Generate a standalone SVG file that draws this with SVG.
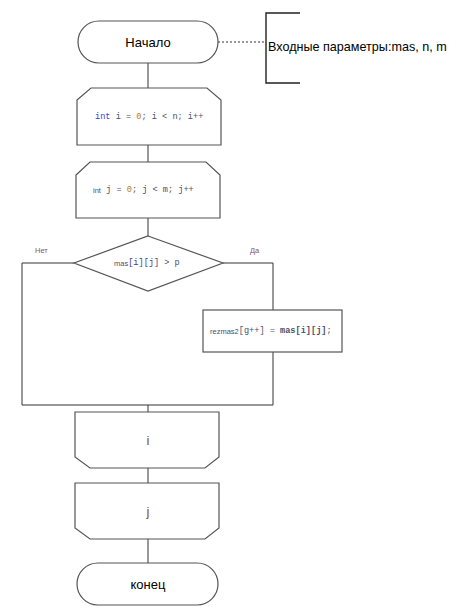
<svg xmlns="http://www.w3.org/2000/svg" width="449" height="611" viewBox="0 0 449 611">
<style>
.sh{fill:#fff;stroke:#555;stroke-width:1.2}
.ln{fill:none;stroke:#333;stroke-width:1}
.t{font-family:"Liberation Sans",Arial,sans-serif;fill:#000;text-anchor:middle;dominant-baseline:central}
.v{fill:#7a5020}
.c{font-family:"Liberation Mono","DejaVu Sans Mono",monospace;font-size:8.6px;fill:#4a5068;dominant-baseline:central}
.s{font-family:"Liberation Sans",Arial,sans-serif;font-size:7.5px;fill:#4a5068}
.lbl{font-family:"Liberation Sans",Arial,sans-serif;font-size:7.5px;fill:#8a5560}
</style>
<rect width="449" height="611" fill="#fff"/>
<g id="connectors">
<path class="ln" d="M148 63V88M148 145V162M148 218V236M74 263H22V405H273V352M223 263H273V310M148 405V412M148 468V483M148 539V563"/>
<path d="M218 42H266" fill="none" stroke="#333" stroke-width="1" stroke-dasharray="2,2"/>
</g>
<g id="start">
<rect class="sh" x="78" y="21" width="140" height="42" rx="21"/>
<text class="t" x="148" y="42" font-size="13">Начало</text>
</g>
<g id="note">
<path d="M300 13H266V83H300" fill="none" stroke="#222" stroke-width="1.4"/>
<text x="268" y="47" font-family="Liberation Sans,Arial,sans-serif" font-size="12.6" dominant-baseline="central" fill="#000">Входные параметры:mas, n, m</text>
</g>
<g id="loop-i">
<path class="sh" d="M77 100L91 88H207L221 100V145H77Z"/>
<text class="c" x="95" y="117"><tspan fill="#3b3bdc">int</tspan> i = <tspan fill="#b07a30">0</tspan>; i &lt; n; i++</text>
</g>
<g id="loop-j">
<path class="sh" d="M76 175L90 162H206L220 175V218H76Z"/>
<text class="c" x="93" y="190"><tspan class="s">int</tspan> j = <tspan fill="#b07a30">0</tspan>; j &lt; m; j++</text>
</g>
<g id="cond">
<path class="sh" d="M148 236L223 263L148 291L74 263Z"/>
<text class="c" x="114" y="263"><tspan class="s">mas</tspan><tspan fill="#4a3a80">[i][j]</tspan> &gt; p</text>
<text class="lbl" x="35" y="250" dominant-baseline="central">Нет</text>
<text class="lbl" x="250" y="250" dominant-baseline="central">Да</text>
</g>
<g id="assign">
<rect class="sh" x="203" y="310" width="139" height="42"/>
<text class="c" x="210" y="331"><tspan class="s">rezmas2</tspan>[g++] = <tspan font-weight="bold">mas[i][j]</tspan>;</text>
</g>
<g id="end-i">
<path class="sh" d="M75 412H219V457L205 468H90L75 457Z"/>
<text class="t v" x="148" y="440" font-size="13">i</text>
</g>
<g id="end-j">
<path class="sh" d="M75 483H219V528L205 539H90L75 528Z"/>
<text class="t v" x="148" y="511" font-size="13">j</text>
</g>
<g id="end">
<rect class="sh" x="77" y="563" width="141" height="42" rx="21"/>
<text class="t" x="148" y="584" font-size="13">конец</text>
</g>
</svg>
